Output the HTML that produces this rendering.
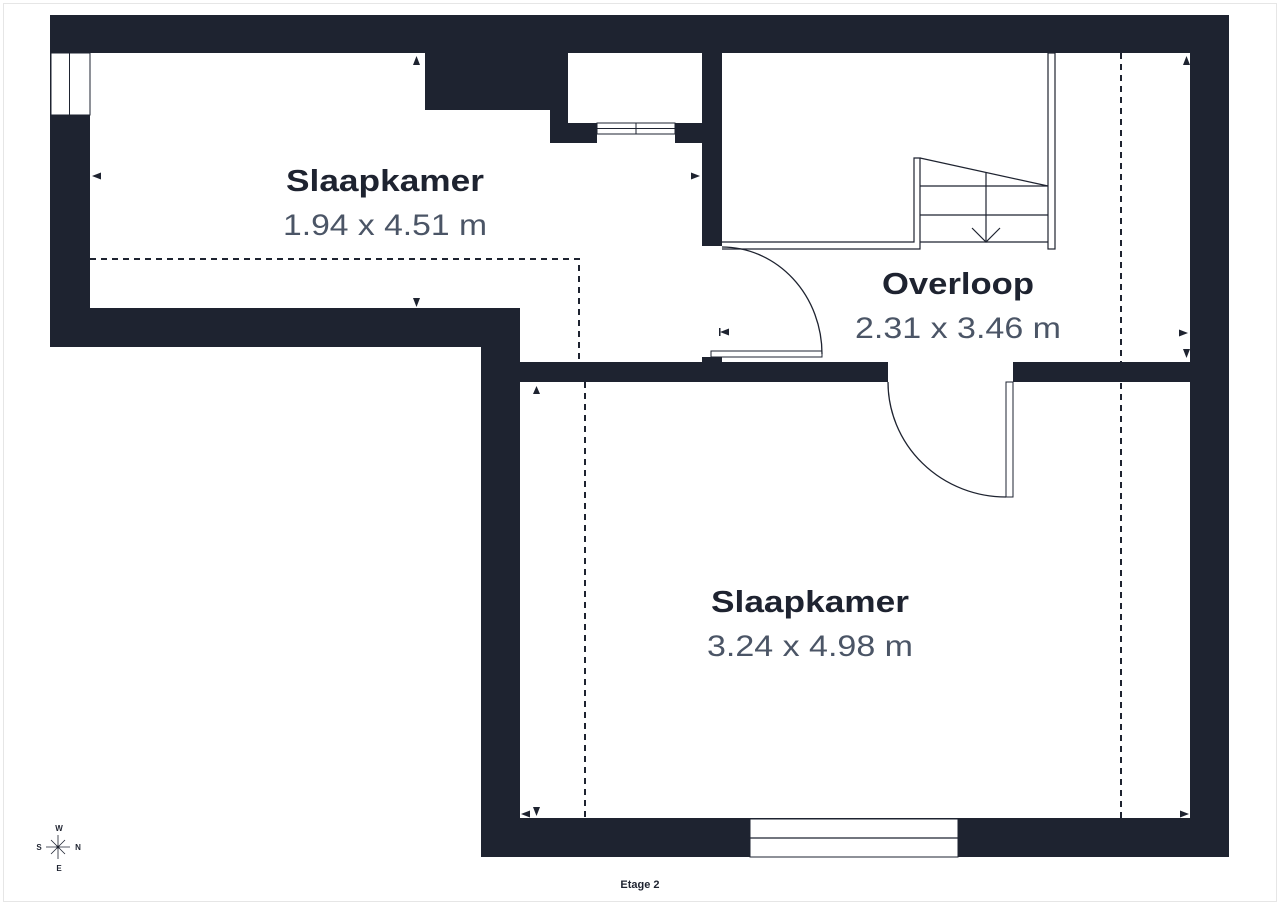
<!DOCTYPE html>
<html><head><meta charset="utf-8"><style>
html,body{margin:0;padding:0;background:#fff;}
svg{display:block;}
text{font-family:"Liberation Sans",sans-serif;}
</style></head><body>
<svg width="1280" height="905" viewBox="0 0 1280 905" xmlns="http://www.w3.org/2000/svg">
<rect x="3.5" y="3.5" width="1273" height="898" fill="none" stroke="#e6e6e6" stroke-width="1"/>
<polygon points="50,15 1229,15 1229,857 481,857 481,347 50,347" fill="#1e2330"/>
<polygon points="90,53 1190,53 1190,818 520,818 520,308 90,308" fill="#fff"/>
<rect x="51" y="53" width="39" height="62" fill="#fff" stroke="#1e2330" stroke-width="1"/>
<line x1="69.5" y1="53" x2="69.5" y2="115" stroke="#1e2330" stroke-width="1"/>
<polygon points="425,53 568,53 568,123 597,123 597,143 550,143 550,110 425,110" fill="#1e2330"/>
<rect x="675" y="123" width="30" height="20" fill="#1e2330"/>
<rect x="702" y="53" width="20" height="193" fill="#1e2330"/>
<rect x="597" y="123" width="78" height="11" fill="#fff" stroke="#1e2330" stroke-width="1"/>
<line x1="597" y1="128.5" x2="675" y2="128.5" stroke="#1e2330" stroke-width="1"/>
<line x1="636" y1="123" x2="636" y2="134" stroke="#1e2330" stroke-width="1"/>
<rect x="520" y="362" width="368" height="20" fill="#1e2330"/>
<rect x="1013" y="362" width="177" height="20" fill="#1e2330"/>
<rect x="702" y="357" width="20" height="6" fill="#1e2330"/>
<rect x="750" y="819" width="208" height="38" fill="#fff" stroke="#1e2330" stroke-width="1"/>
<line x1="750" y1="838" x2="958" y2="838" stroke="#1e2330" stroke-width="1.2"/>
<rect x="711" y="351" width="111" height="6" fill="#fff" stroke="#1e2330" stroke-width="1"/>
<path d="M822,354 A100,107 0 0 0 722,247" fill="none" stroke="#1e2330" stroke-width="1.3"/>
<rect x="1006" y="382" width="7" height="115" fill="#fff" stroke="#1e2330" stroke-width="1"/>
<path d="M888,382 A118,115 0 0 0 1006,497" fill="none" stroke="#1e2330" stroke-width="1.3"/>
<g fill="none" stroke="#1e2330" stroke-width="1.2">
<polyline points="722,242 914,242 914,158 920,158 920,249 722,249"/>
<line x1="920" y1="242" x2="1048" y2="242"/>
<rect x="1048" y="53" width="7" height="196" fill="#fff"/>
<line x1="920" y1="158" x2="1048" y2="186"/>
<line x1="920" y1="186" x2="1048" y2="186"/>
<line x1="920" y1="215" x2="1048" y2="215"/>
<line x1="986" y1="173" x2="986" y2="242"/>
<polyline points="972,228 986,242 1000,228"/>
</g>
<g fill="none" stroke="#1e2330" stroke-width="2" stroke-dasharray="6,5">
<polyline points="90,259 579,259 579,362"/>
<line x1="585" y1="382" x2="585" y2="818"/>
<line x1="1121" y1="53" x2="1121" y2="818"/>
</g>
<g fill="#1e2330">
<polygon points="413,65 420,65 416.5,56"/>
<polygon points="413,298 420,298 416.5,307"/>
<polygon points="92,176 101,172.5 101,179.5"/>
<polygon points="700,176 691,172.5 691,179.5"/>
<polygon points="720,332 729,328.5 729,335.5"/><rect x="719" y="328" width="1.5" height="8"/>
<polygon points="533,394 540,394 536.5,386"/>
<polygon points="1183,65 1190,65 1186.5,56"/>
<polygon points="1188,333 1179,329.5 1179,336.5"/>
<polygon points="1183,349 1190,349 1186.5,358"/>
<polygon points="521,814 530,810.5 530,817.5"/>
<polygon points="533,807 540,807 536.5,816"/>
<polygon points="1189,814 1180,810.5 1180,817.5"/>
</g>
<g text-anchor="middle">
<text x="385" y="191" font-size="31" font-weight="bold" fill="#1e2330" textLength="198" lengthAdjust="spacingAndGlyphs">Slaapkamer</text>
<text x="385" y="235" font-size="30" fill="#4b5566" textLength="204" lengthAdjust="spacingAndGlyphs">1.94 x 4.51 m</text>
<text x="958" y="294" font-size="31" font-weight="bold" fill="#1e2330" textLength="152" lengthAdjust="spacingAndGlyphs">Overloop</text>
<text x="958" y="338" font-size="30" fill="#4b5566" textLength="206" lengthAdjust="spacingAndGlyphs">2.31 x 3.46 m</text>
<text x="810" y="612" font-size="31" font-weight="bold" fill="#1e2330" textLength="198" lengthAdjust="spacingAndGlyphs">Slaapkamer</text>
<text x="810" y="656" font-size="30" fill="#4b5566" textLength="206" lengthAdjust="spacingAndGlyphs">3.24 x 4.98 m</text>
<text x="640" y="888" font-size="11" font-weight="bold" fill="#1e2330">Etage 2</text>
</g>
<g stroke="#1e2330" stroke-width="0.8">
<line x1="58" y1="835" x2="58" y2="859"/>
<line x1="46" y1="847" x2="70" y2="847"/>
<line x1="51" y1="840" x2="65" y2="854"/>
<line x1="65" y1="840" x2="51" y2="854"/>
</g>
<circle cx="58" cy="847" r="1.5" fill="#1e2330"/>
<g font-size="8" font-weight="bold" fill="#1e2330" text-anchor="middle">
<text x="59" y="831">W</text>
<text x="59" y="871">E</text>
<text x="39" y="850">S</text>
<text x="78" y="850">N</text>
</g>
</svg>
</body></html>
